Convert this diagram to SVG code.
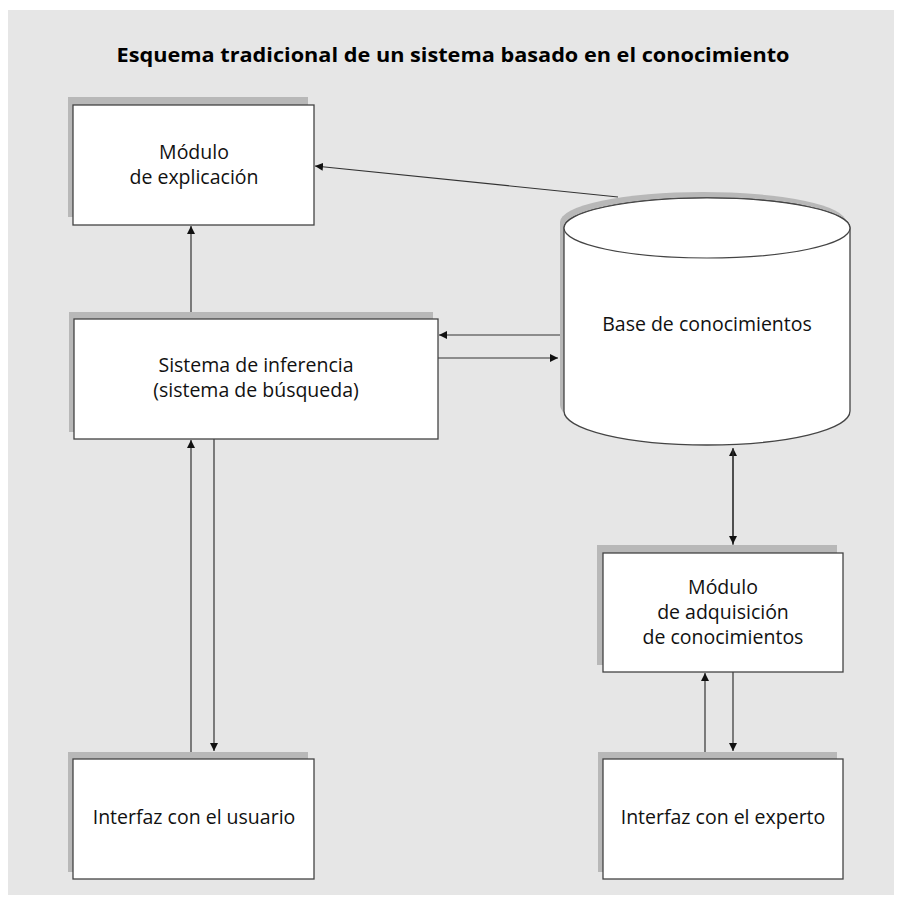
<svg xmlns="http://www.w3.org/2000/svg" width="902" height="908" viewBox="0 0 902 908">
  <defs>
    <marker id="tip" viewBox="0 0 10 10" refX="10" refY="5" markerWidth="8" markerHeight="8" markerUnits="userSpaceOnUse" orient="auto">
      <path d="M0,0 L10,5 L0,10 Z" fill="#111"/>
    </marker>
    <path id="cyl" d="M564,228 L564,411 A143,34 0 0 0 850,411 L850,228 A143,30 0 0 0 564,228 Z"/>
  </defs>
  <style>
    .shadow { fill: #b8b8b8; }
    .box { fill: #ffffff; stroke: #444; stroke-width: 1.3; }
    .lbl { font-family: "Open Sans", "Noto Sans", "Liberation Sans", sans-serif; font-size: 19.5px; fill: #111; text-anchor: middle; }
    .title { font-family: "Open Sans", "Liberation Sans", sans-serif; font-weight: 700; font-size: 20px; fill: #000; text-anchor: middle; }
    .link { fill: none; stroke: #333; stroke-width: 1.2; marker-end: url(#tip); }
  </style>

  <rect width="902" height="908" fill="#ffffff"/>
  <rect x="8" y="10" width="886" height="885" fill="#e6e6e6"/>

  <text class="title" x="453" y="62" textLength="673" lengthAdjust="spacingAndGlyphs">Esquema tradicional de un sistema basado en el conocimiento</text>

  <!-- connectors -->
  <g id="connectors">
    <line class="link" x1="191" y1="319" x2="191" y2="226"/>
    <line class="link" x1="618" y1="197" x2="315" y2="166"/>
    <line class="link" x1="562" y1="335" x2="439" y2="335"/>
    <line class="link" x1="438" y1="358" x2="558" y2="358"/>
    <line class="link" x1="191" y1="752" x2="191" y2="440"/>
    <line class="link" x1="214" y1="439" x2="214" y2="751"/>
    <line class="link" x1="733" y1="545" x2="733" y2="448"/>
    <line class="link" x1="733" y1="449" x2="733" y2="544"/>
    <line class="link" x1="705" y1="752" x2="705" y2="673"/>
    <line class="link" x1="733" y1="672" x2="733" y2="751"/>
  </g>

  <!-- Módulo de explicación -->
  <g id="explicacion">
    <rect class="shadow" x="68" y="97" width="240" height="120"/>
    <rect class="box" x="73" y="105" width="241" height="120"/>
    <text class="lbl" x="194" y="159">Módulo</text>
    <text class="lbl" x="194" y="184">de explicación</text>
  </g>

  <!-- Sistema de inferencia -->
  <g id="inferencia">
    <rect class="shadow" x="69" y="312" width="364" height="120"/>
    <rect class="box" x="74" y="319" width="364" height="120"/>
    <text class="lbl" x="256" y="372">Sistema de inferencia</text>
    <text class="lbl" x="256" y="397">(sistema de búsqueda)</text>
  </g>

  <!-- Base de conocimientos -->
  <g id="base">
    <use href="#cyl" class="shadow" transform="translate(-4,-6)"/>
    <use href="#cyl" class="box"/>
    <ellipse cx="707" cy="228" rx="143" ry="30" fill="#ffffff" stroke="#444" stroke-width="1.2"/>
    <text class="lbl" x="707" y="331">Base de conocimientos</text>
  </g>

  <!-- Módulo de adquisición de conocimientos -->
  <g id="adquisicion">
    <rect class="shadow" x="597" y="545" width="240" height="120"/>
    <rect class="box" x="603" y="553" width="240" height="119"/>
    <text class="lbl" x="723" y="594">Módulo</text>
    <text class="lbl" x="723" y="619">de adquisición</text>
    <text class="lbl" x="723" y="644">de conocimientos</text>
  </g>

  <!-- Interfaz con el usuario -->
  <g id="usuario">
    <rect class="shadow" x="68" y="752" width="240" height="120"/>
    <rect class="box" x="73" y="759" width="241" height="120"/>
    <text class="lbl" x="194" y="824">Interfaz con el usuario</text>
  </g>

  <!-- Interfaz con el experto -->
  <g id="experto">
    <rect class="shadow" x="598" y="752" width="239" height="120"/>
    <rect class="box" x="603" y="759" width="240" height="120"/>
    <text class="lbl" x="723" y="824">Interfaz con el experto</text>
  </g>
</svg>
